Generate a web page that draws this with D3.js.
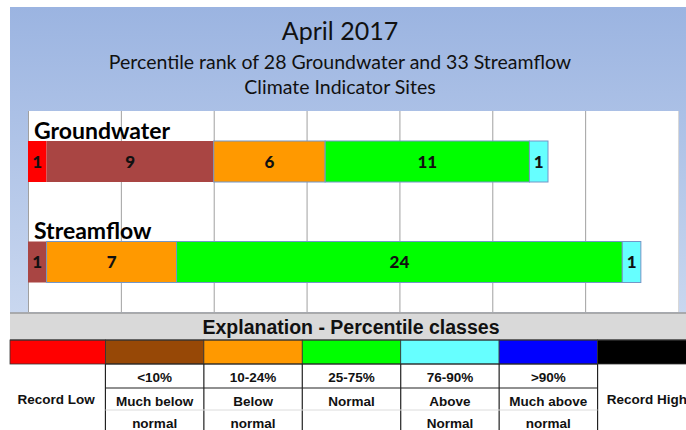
<!DOCTYPE html>
<html>
<head>
<meta charset="utf-8">
<script src="https://cdn.jsdelivr.net/npm/d3@7"></script>
<style>
  body { margin: 0; background: #fff; }
  svg { display: block; }
</style>
</head>
<body>
<div id="chart"></div>
<script>
// chart data
var sites = ["Groundwater", "Streamflow"];
var classes = ["Record Low", "<10%", "10-24%", "25-75%", "76-90%", ">90%", "Record High"];
var groundwater = [1, 9, 6, 11, 1, 0, 0];
var streamflow = [0, 1, 7, 24, 1, 0, 0];
var barColors = ["#ff0000", "#a94543", "#ff9900", "#00ff00", "#66ffff", "#0000ff", "#000000"];
var legendColors = ["#ff0000", "#974806", "#ff9900", "#00ff00", "#66ffff", "#0000ff", "#000000"];
var rangeLabels = ["", "<10%", "10-24%", "25-75%", "76-90%", ">90%", ""];
var descLine1 = ["", "Much below", "Below", "Normal", "Above", "Much above", ""];
var descLine2 = ["", "normal", "normal", "", "Normal", "normal", ""];
var sideLabels = ["Record Low", "", "", "", "", "", "Record High"];
var titleLines = ["April 2017", "Percentile rank of 28 Groundwater and 33 Streamflow", "Climate Indicator Sites"];
var tableTitle = "Explanation - Percentile classes";

var width = 686, height = 430;

var svg = d3.select("#chart").append("svg")
    .attr("width", width)
    .attr("height", height);

var defs = svg.append("defs");
var grad = defs.append("linearGradient")
    .attr("id", "bg")
    .attr("x1", 0).attr("y1", 0).attr("x2", 0).attr("y2", 1);
grad.append("stop").attr("offset", "0%").attr("stop-color", "#9bb4e1");
grad.append("stop").attr("offset", "100%").attr("stop-color", "#c9d7ef");

// background panel
svg.append("rect")
    .attr("x", 10).attr("y", 7)
    .attr("width", width - 10).attr("height", 306)
    .attr("fill", "url(#bg)");

// titles
var titleY = [40, 69, 94];
var titleSize = [25, 19.5, 19.5];
svg.selectAll("text.title")
    .data(titleLines)
  .enter().append("text")
    .attr("class", "title")
    .attr("x", 340)
    .attr("y", function(d, i) { return titleY[i]; })
    .attr("text-anchor", "middle")
    .style("font-family", "Lato, 'Open Sans', sans-serif")
    .style("font-size", function(d, i) { return titleSize[i] + "px"; })
    .style("fill", "#111")
    .text(function(d) { return d; });

// plot area
var plot = { left: 28, right: 678, top: 111, bottom: 312 };

var x = d3.scaleLinear()
    .domain([0, 35])
    .range([plot.left, plot.right]);

var y = d3.scalePoint()
    .domain(sites)
    .range([161.5, 262]);

var barH = 41;

svg.append("rect")
    .attr("x", plot.left).attr("y", plot.top)
    .attr("width", plot.right - plot.left).attr("height", plot.bottom - plot.top)
    .attr("fill", "#fff");

var xAxis = d3.axisBottom(x)
    .tickValues(d3.range(0, 36, 5))
    .tickSize(plot.bottom - plot.top)
    .tickFormat("");

svg.append("g")
    .attr("class", "grid")
    .attr("transform", "translate(0," + plot.top + ")")
    .call(xAxis)
    .call(function(g) { g.select(".domain").remove(); })
    .call(function(g) {
        g.selectAll(".tick line")
            .attr("stroke", function(d) { return d === 35 ? "#d8d8d8" : "#a0a0a0"; })
            .attr("stroke-width", 1);
    });

// stack segments
var seriesValues = { Groundwater: groundwater, Streamflow: streamflow };

var segments = [];
sites.forEach(function(s) {
    var acc = 0;
    seriesValues[s].forEach(function(v, i) {
        if (v > 0) {
            segments.push({ site: s, cls: i, x0: acc, x1: acc + v, value: v });
        }
        acc += v;
    });
});

var bars = svg.append("g").attr("class", "bars");

bars.selectAll("rect")
    .data(segments)
  .enter().append("rect")
    .attr("x", function(d) { return x(d.x0); })
    .attr("y", function(d) { return y(d.site) - barH / 2; })
    .attr("width", function(d) { return x(d.x1) - x(d.x0); })
    .attr("height", barH)
    .attr("fill", function(d) { return barColors[d.cls]; })
    .attr("stroke", function(d) { return d.cls < 2 ? "none" : "#7396c8"; })
    .attr("stroke-width", 1);

bars.selectAll("text")
    .data(segments)
  .enter().append("text")
    .attr("x", function(d) { return (x(d.x0) + x(d.x1)) / 2; })
    .attr("y", function(d) { return y(d.site) + 6; })
    .attr("text-anchor", "middle")
    .style("font-family", "Lato, 'Open Sans', sans-serif")
    .style("font-weight", "900")
    .style("font-size", "17px")
    .style("fill", "#111")
    .text(function(d) { return d.value; });

svg.selectAll("text.site")
    .data(sites)
  .enter().append("text")
    .attr("class", "site")
    .attr("x", 34)
    .attr("y", function(d) { return y(d) - 23; })
    .style("font-family", "Lato, 'Open Sans', sans-serif")
    .style("font-weight", "bold")
    .style("font-size", "23px")
    .style("fill", "#000")
    .text(function(d) { return d; });

// explanation table
var col = d3.scaleBand()
    .domain(classes)
    .range([7, 696]);

var tbl = svg.append("g").attr("class", "table");
var tTop = 313, hdrBot = 340, colorBot = 364, row1Bot = 388, row2Bot = 410;

tbl.append("rect")
    .attr("x", 10).attr("y", tTop)
    .attr("width", width - 10).attr("height", hdrBot - tTop)
    .attr("fill", "#d9d9d9");
tbl.append("line")
    .attr("x1", 10).attr("x2", width).attr("y1", tTop).attr("y2", tTop)
    .attr("stroke", "#9a9a9a").attr("stroke-width", 1.5);

tbl.append("text")
    .attr("x", 351).attr("y", 334)
    .attr("text-anchor", "middle")
    .style("font-family", "'Liberation Sans', Arial, sans-serif")
    .style("font-weight", "bold")
    .style("font-size", "19.5px")
    .style("fill", "#111")
    .text(tableTitle);

tbl.selectAll("rect.swatch")
    .data(classes)
  .enter().append("rect")
    .attr("class", "swatch")
    .attr("x", function(d) { return Math.max(col(d), 10); })
    .attr("y", hdrBot)
    .attr("width", function(d) { return col(d) + col.bandwidth() - Math.max(col(d), 10); })
    .attr("height", colorBot - hdrBot)
    .attr("fill", function(d, i) { return legendColors[i]; })
    .attr("stroke", "#333")
    .attr("stroke-width", 0.8);

tbl.append("line")
    .attr("x1", 10).attr("x2", width).attr("y1", hdrBot).attr("y2", hdrBot)
    .attr("stroke", "#333").attr("stroke-width", 1);

// inner grid of the text rows
var inner = classes.slice(1, 6);
var innerLeft = col(inner[0]), innerRight = col(inner[inner.length - 1]) + col.bandwidth();

tbl.selectAll("line.vsep")
    .data(inner.concat(["end"]))
  .enter().append("line")
    .attr("class", "vsep")
    .attr("x1", function(d) { return d === "end" ? innerRight : col(d); })
    .attr("x2", function(d) { return d === "end" ? innerRight : col(d); })
    .attr("y1", colorBot).attr("y2", height)
    .attr("stroke", "#222").attr("stroke-width", 1.2);

tbl.append("line")
    .attr("x1", innerLeft).attr("x2", innerRight).attr("y1", colorBot).attr("y2", colorBot)
    .attr("stroke", "#222").attr("stroke-width", 1.2);
tbl.append("line")
    .attr("x1", innerLeft).attr("x2", innerRight).attr("y1", row1Bot).attr("y2", row1Bot)
    .attr("stroke", "#222").attr("stroke-width", 1.2);
tbl.append("line")
    .attr("x1", innerLeft).attr("x2", innerRight).attr("y1", row2Bot).attr("y2", row2Bot)
    .attr("stroke", "#dcdcdc").attr("stroke-width", 1);

var cellFont = function(sel) {
    sel.attr("text-anchor", "middle")
        .style("font-family", "'Liberation Sans', Arial, sans-serif")
        .style("font-weight", "bold")
        .style("font-size", "13.5px")
        .style("fill", "#111");
};

var rows = [
    { labels: rangeLabels, y: 382 },
    { labels: descLine1, y: 406 },
    { labels: descLine2, y: 428 },
    { labels: sideLabels, y: 404 }
];

rows.forEach(function(r, ri) {
    tbl.selectAll("text.row" + ri)
        .data(r.labels)
      .enter().append("text")
        .attr("class", "row" + ri)
        .attr("x", function(d, i) { return col(classes[i]) + col.bandwidth() / 2; })
        .attr("y", r.y)
        .call(cellFont)
        .text(function(d) { return d; });
});
</script>
</body>
</html>
